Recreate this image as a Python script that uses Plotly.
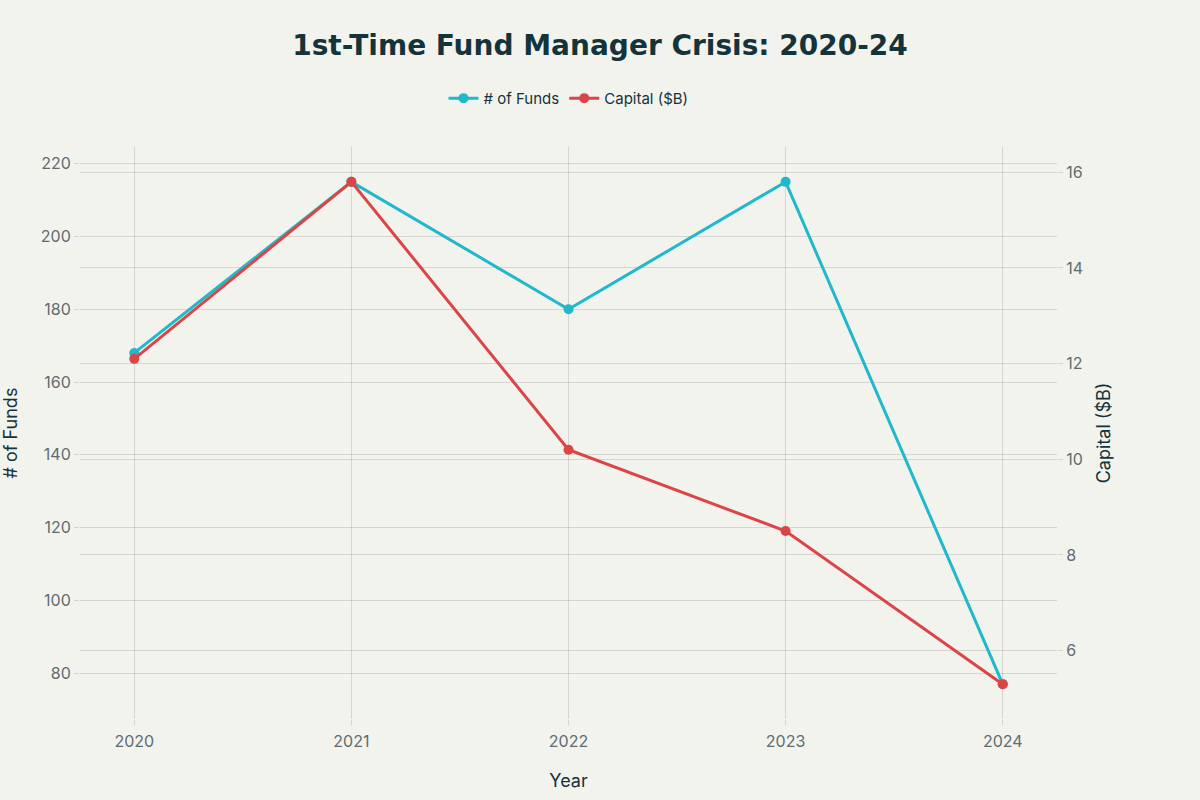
import plotly.graph_objects as go

# data
years = [2020, 2021, 2022, 2023, 2024]
num_funds = [168, 215, 180, 215, 77]
capital_b = [12.1, 15.8, 10.2, 8.5, 5.3]

bg = "#F3F3EE"
grid = "rgba(0,0,0,0.12)"
tick_col = "#5F6B70"
title_col = "#13343B"

fig = go.Figure()

fig.add_trace(go.Scatter(
    x=years, y=num_funds, name="# of Funds",
    mode="lines+markers",
    line=dict(color="#1FB8CD", width=3),
    marker=dict(size=10, color="#1FB8CD"),
    yaxis="y",
    cliponaxis=False,
))

fig.add_trace(go.Scatter(
    x=years, y=capital_b, name="Capital ($B)",
    mode="lines+markers",
    line=dict(color="#DB4545", width=3),
    marker=dict(size=10, color="#DB4545"),
    yaxis="y2",
    cliponaxis=False,
))

axis_common = dict(
    showgrid=True, gridcolor=grid, gridwidth=1,
    ticks="outside", ticklen=5, tickcolor=grid,
    tickfont=dict(size=16, color=tick_col),
    showline=False, zeroline=False, automargin=False,
)

fig.update_layout(
    width=1200, height=800,
    paper_bgcolor=bg, plot_bgcolor=bg,
    font=dict(family="Inter, Liberation Sans, sans-serif", color=title_col),
    title=dict(
        text="<b>1st-Time Fund Manager Crisis: 2020-24</b>",
        x=0.5, xanchor="center", y=0.943, yanchor="middle",
        font=dict(family="DejaVu Sans", size=28, color=title_col),
    ),
    legend=dict(
        orientation="h", x=0.5, xanchor="center", y=1.085, yanchor="middle",
        font=dict(size=15, color=title_col), bgcolor="rgba(0,0,0,0)",
    ),
    margin=dict(l=80, r=143, t=147, b=81),
    xaxis=dict(
        title=dict(text="Year", font=dict(size=18, color=title_col), standoff=24),
        tickvals=years, range=[2019.75, 2024.25],
        ticklabelstandoff=3,
        **axis_common,
    ),
    yaxis=dict(
        title=dict(text="# of Funds", font=dict(size=18, color=title_col), standoff=20),
        **axis_common,
    ),
    yaxis2=dict(
        title=dict(text="Capital ($B)", font=dict(size=18, color=title_col), standoff=15),
        overlaying="y", side="right",
        **axis_common,
    ),
)

fig.write_html(
    "out.html",
    config={"displayModeBar": False},
    post_script="document.body.style.margin='0px';",
)
